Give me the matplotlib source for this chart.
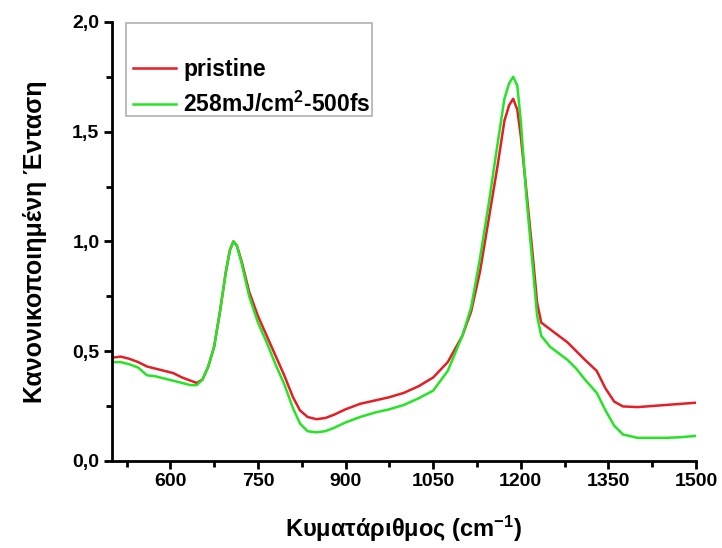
import matplotlib
matplotlib.use("Agg")
import matplotlib.pyplot as plt
from matplotlib.ticker import FixedLocator, MultipleLocator
from matplotlib.patches import Rectangle

# Raman spectra, normalised to the ~707 cm-1 band
wavenumber = [500, 515, 530, 545, 560, 575, 590, 605, 620, 635, 645, 655, 665, 675,
              685, 695, 702, 708, 714, 722, 735, 750, 765, 780, 795, 810, 822, 835,
              850, 865, 880, 900, 925, 950, 975, 1000, 1025, 1050, 1075, 1100, 1115,
              1130, 1145, 1160, 1172, 1180, 1187, 1194, 1200, 1210, 1220, 1228, 1235,
              1250, 1265, 1280, 1295, 1310, 1330, 1345, 1360, 1375, 1400, 1425, 1450,
              1475, 1500]

pristine = [0.47, 0.475, 0.465, 0.45, 0.43, 0.42, 0.41, 0.40, 0.38, 0.365, 0.355, 0.37,
            0.43, 0.52, 0.68, 0.86, 0.96, 1.0, 0.98, 0.91, 0.77, 0.66, 0.57, 0.48, 0.39,
            0.29, 0.23, 0.20, 0.19, 0.195, 0.21, 0.235, 0.26, 0.275, 0.29, 0.31, 0.34,
            0.38, 0.45, 0.57, 0.68, 0.86, 1.10, 1.34, 1.55, 1.62, 1.65, 1.60, 1.48, 1.22,
            0.95, 0.72, 0.63, 0.60, 0.57, 0.54, 0.50, 0.46, 0.41, 0.33, 0.27, 0.248,
            0.245, 0.25, 0.255, 0.26, 0.265]

irradiated = [0.45, 0.45, 0.44, 0.425, 0.39, 0.385, 0.375, 0.365, 0.355, 0.345, 0.345,
              0.37, 0.43, 0.52, 0.68, 0.86, 0.96, 1.0, 0.98, 0.90, 0.75, 0.63, 0.54,
              0.44, 0.35, 0.24, 0.17, 0.135, 0.13, 0.135, 0.15, 0.175, 0.20, 0.22, 0.235,
              0.255, 0.285, 0.32, 0.41, 0.57, 0.70, 0.92, 1.17, 1.44, 1.65, 1.72, 1.75,
              1.71, 1.55, 1.19, 0.90, 0.66, 0.57, 0.52, 0.49, 0.46, 0.42, 0.37, 0.31,
              0.23, 0.16, 0.12, 0.105, 0.105, 0.105, 0.108, 0.114]

series_labels = ["pristine", r"258mJ/cm$^{\mathbf{2}}$-500fs"]

x_ticks = [600, 750, 900, 1050, 1200, 1350, 1500]
x_tick_labels = ["600", "750", "900", "1050", "1200", "1350", "1500"]
y_ticks = [0.0, 0.5, 1.0, 1.5, 2.0]
y_tick_labels = ["0,0", "0,5", "1,0", "1,5", "2,0"]

plt.rcParams["font.family"] = ["Liberation Sans", "DejaVu Sans"]
plt.rcParams["font.weight"] = "bold"
plt.rcParams["mathtext.fontset"] = "custom"
plt.rcParams["mathtext.rm"] = "Liberation Sans:bold"
plt.rcParams["mathtext.bf"] = "Liberation Sans:bold"
plt.rcParams["mathtext.default"] = "bf"

fig = plt.figure(figsize=(7.22, 5.48), dpi=100)
ax = fig.add_axes([0.155, 0.159, 0.809, 0.801])

ax.plot(wavenumber, pristine, color="#e41e26", lw=1.8, label=series_labels[0])
ax.plot(wavenumber, irradiated, color="#25e425", lw=1.8, label=series_labels[1])

ax.set_xlim(500, 1500)
ax.set_ylim(0, 2.0)
ax.xaxis.set_major_locator(FixedLocator(x_ticks))
ax.set_xticklabels(x_tick_labels)
ax.xaxis.set_minor_locator(MultipleLocator(75))
ax.yaxis.set_major_locator(FixedLocator(y_ticks))
ax.set_yticklabels(y_tick_labels)
ax.yaxis.set_minor_locator(MultipleLocator(0.25))

for side in ("top", "right"):
    ax.spines[side].set_visible(False)
for side in ("left", "bottom"):
    ax.spines[side].set_linewidth(2.0)

ax.tick_params(which="major", direction="out", length=6, width=2.0,
               labelsize=14, pad=3)
ax.tick_params(which="minor", direction="out", length=4, width=2.0)
for lab in ax.get_xticklabels() + ax.get_yticklabels():
    lab.set_fontweight("bold")

ax.set_xlabel(r"Κυματάριθμος (cm$^{\mathbf{-1}}$)", fontsize=17, fontweight="bold",
              labelpad=17)
ax.set_ylabel("Κανονικοποιημένη Ένταση", fontsize=18, fontweight="bold", labelpad=18)

# Legend with a plain grey box
ax.add_patch(Rectangle((0.024, 0.786), 0.421, 0.212, transform=ax.transAxes,
                       fill=False, edgecolor="#b0b0b0", lw=1.2, zorder=3))
leg = ax.legend(loc="upper left", bbox_to_anchor=(0.008, 0.955), frameon=False,
                prop={"size": 16.5, "weight": "bold"}, handlelength=1.9,
                handletextpad=0.3, labelspacing=0.5, borderpad=0.2)

fig.savefig("out.png", dpi=100, facecolor="white")
